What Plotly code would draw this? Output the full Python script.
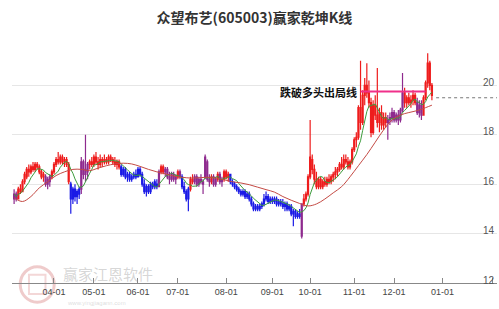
import plotly.graph_objects as go
import pandas as pd

title = "众望布艺(605003)赢家乾坤K线"

# state runs per session: r = bullish (red), b = bearish (blue), p = neutral (purple)
state_runs = [("p", 2), ("r", 13), ("p", 3), ("r", 9), ("b", 5), ("p", 4), ("r", 15),
              ("b", 18), ("p", 1), ("r", 2), ("p", 6), ("r", 1), ("p", 1), ("b", 4),
              ("r", 2), ("p", 8), ("r", 1), ("p", 2), ("r", 1), ("p", 2), ("r", 3),
              ("b", 34), ("p", 1), ("r", 40), ("p", 8), ("r", 6), ("p", 3), ("r", 5)]

open_ = [15.4, 15.6, 15.4, 15.8, 15.7, 16.1, 16.3, 16.6, 16.5, 16.7,
         16.6, 16.8, 16.7, 16.5, 16.3, 16.3, 16.0, 16.1, 16.3, 16.5,
         16.8, 17.0, 16.9, 17.1, 16.9, 17.0, 16.8, 16.0, 15.4, 15.8,
         15.5, 15.6, 15.8, 16.9, 16.4, 16.5, 16.8, 16.9, 16.8, 17.1,
         16.9, 16.8, 17.0, 16.9, 17.0, 16.9, 17.1, 17.0, 16.9, 16.8,
         16.9, 16.7, 16.4, 16.6, 16.3, 16.4, 16.2, 16.3, 16.4, 16.3,
         16.6, 16.4, 16.0, 15.7, 15.9, 15.7, 16.0, 15.9, 16.0, 15.9,
         16.5, 16.7, 16.5, 16.6, 16.3, 16.2, 16.4, 16.2, 16.3, 16.5,
         16.3, 15.9, 15.7, 15.4, 15.8, 16.2, 16.1, 16.3, 16.0, 16.2,
         16.1, 16.3, 16.9, 16.2, 16.1, 16.3, 16.0, 16.2, 16.4, 16.1,
         16.2, 16.5, 16.3, 16.4, 16.1, 16.0, 15.9, 15.8, 15.7, 15.6,
         15.7, 15.5, 15.6, 15.4, 15.2, 15.0, 15.1, 15.0, 15.1, 15.2,
         15.4, 15.5, 15.3, 15.4, 15.3, 15.4, 15.2, 15.3, 15.2, 15.1,
         15.2, 15.0, 15.1, 14.8, 14.9, 14.7, 14.8, 13.9, 15.2, 15.4,
         15.6, 16.3, 17.0, 16.6, 16.2, 15.9, 16.2, 15.9, 16.1, 16.0,
         16.2, 16.1, 16.3, 16.4, 16.5, 16.6, 16.8, 16.7, 17.0, 16.9,
         16.7, 16.9, 17.4, 17.8, 17.9, 19.1, 18.5, 19.6, 20.0, 19.7,
         19.3, 18.1, 19.2, 18.8, 18.5, 18.9, 18.4, 18.7, 18.5, 18.6,
         18.7, 18.9, 18.6, 18.8, 18.6, 19.0, 19.7, 19.3, 19.5, 19.3,
         19.4, 19.6, 19.3, 18.9, 19.2, 18.8, 19.5, 20.1, 20.9, 20.0]

high = [15.8, 15.7, 15.9, 16.0, 16.2, 16.5, 16.7, 16.8, 16.8, 16.9,
        16.9, 16.9, 16.8, 16.6, 16.5, 16.4, 16.3, 16.4, 16.6, 16.9,
        17.1, 17.3, 17.2, 17.2, 17.1, 17.1, 16.9, 16.1, 15.9, 16.0,
        15.8, 15.9, 17.1, 17.0, 18.0, 16.9, 17.0, 17.1, 17.2, 17.3,
        17.1, 17.2, 17.1, 17.2, 17.1, 17.2, 17.2, 17.1, 17.1, 17.0,
        17.0, 16.8, 16.7, 16.7, 16.5, 16.5, 16.4, 16.5, 16.6, 16.7,
        16.7, 16.5, 16.2, 16.0, 16.0, 16.1, 16.1, 16.2, 16.2, 16.6,
        16.8, 16.8, 16.7, 16.7, 16.5, 16.5, 16.5, 16.4, 16.6, 16.6,
        16.4, 16.1, 15.8, 15.9, 16.3, 16.4, 16.4, 16.4, 16.3, 16.4,
        16.2, 17.2, 17.0, 16.4, 16.4, 16.4, 16.3, 16.5, 16.5, 16.3,
        16.6, 16.6, 16.5, 16.4, 16.2, 16.1, 16.0, 15.9, 15.8, 15.8,
        15.8, 15.7, 15.7, 15.5, 15.3, 15.2, 15.2, 15.2, 15.3, 15.6,
        15.7, 15.6, 15.5, 15.5, 15.5, 15.5, 15.4, 15.4, 15.4, 15.3,
        15.3, 15.2, 15.2, 15.0, 15.0, 14.9, 15.0, 15.2, 15.6, 15.7,
        16.4, 18.6, 17.2, 16.8, 16.5, 16.3, 16.3, 16.2, 16.3, 16.3,
        16.4, 16.4, 16.5, 16.7, 16.7, 16.9, 17.1, 17.2, 17.2, 17.1,
        17.0, 17.5, 17.9, 18.1, 19.2, 21.0, 19.8, 20.3, 20.9, 20.2,
        19.5, 19.4, 19.6, 20.7, 19.1, 19.2, 18.9, 18.9, 18.8, 18.9,
        19.1, 19.0, 18.9, 19.0, 19.1, 20.5, 19.9, 19.6, 19.7, 19.6,
        19.8, 19.7, 19.5, 19.4, 19.4, 19.6, 20.2, 21.3, 21.0, 20.1]

low = [15.2, 15.3, 15.4, 15.6, 15.7, 16.0, 16.2, 16.3, 16.4, 16.5,
       16.5, 16.6, 16.4, 16.2, 16.1, 15.9, 15.8, 15.9, 16.2, 16.4,
       16.7, 16.8, 16.8, 16.8, 16.7, 16.7, 16.0, 14.8, 15.2, 15.3,
       15.2, 15.4, 15.6, 16.2, 16.1, 16.2, 16.6, 16.7, 16.7, 16.8,
       16.6, 16.7, 16.7, 16.8, 16.8, 16.8, 16.9, 16.8, 16.7, 16.6,
       16.6, 16.3, 16.3, 16.2, 16.1, 16.1, 16.1, 16.2, 16.2, 16.3,
       16.3, 15.9, 15.6, 15.5, 15.6, 15.6, 15.8, 15.8, 15.8, 15.9,
       16.4, 16.4, 16.3, 16.2, 16.0, 16.1, 16.1, 16.0, 16.2, 16.2,
       15.8, 15.6, 15.3, 14.9, 15.7, 16.0, 16.0, 15.9, 15.9, 16.0,
       15.6, 16.2, 16.1, 15.9, 16.0, 15.9, 15.9, 16.1, 16.0, 15.9,
       16.1, 16.2, 16.1, 16.0, 15.9, 15.8, 15.7, 15.6, 15.5, 15.5,
       15.4, 15.4, 15.3, 15.1, 14.9, 14.9, 14.9, 14.9, 15.0, 15.1,
       15.3, 15.2, 15.2, 15.2, 15.2, 15.1, 15.1, 15.1, 15.0, 14.9,
       14.9, 14.9, 14.7, 14.3, 14.6, 14.6, 14.6, 13.8, 15.1, 15.3,
       15.5, 16.2, 16.4, 16.0, 15.8, 15.8, 15.8, 15.8, 15.9, 15.9,
       16.0, 16.0, 16.1, 16.2, 16.3, 16.5, 16.6, 16.6, 16.8, 16.6,
       16.6, 16.8, 17.3, 17.5, 17.8, 18.2, 18.4, 19.2, 19.5, 19.1,
       17.9, 18.0, 18.6, 18.3, 18.1, 18.2, 18.2, 18.3, 17.8, 18.4,
       18.5, 18.5, 18.5, 18.4, 18.5, 18.9, 19.1, 19.1, 19.2, 19.1,
       19.2, 19.2, 18.8, 18.7, 18.6, 18.8, 19.4, 19.9, 19.8, 19.4]

close = [15.6, 15.4, 15.8, 15.7, 16.1, 16.4, 16.6, 16.5, 16.7, 16.6,
         16.8, 16.7, 16.5, 16.3, 16.4, 16.0, 16.2, 16.3, 16.5, 16.8,
         17.0, 16.9, 17.1, 16.9, 17.0, 16.8, 16.1, 15.4, 15.8, 15.5,
         15.7, 15.8, 16.9, 16.4, 16.6, 16.8, 16.9, 16.8, 17.1, 16.9,
         16.8, 17.0, 16.9, 17.0, 16.9, 17.1, 17.0, 16.9, 16.8, 16.9,
         16.7, 16.4, 16.6, 16.3, 16.4, 16.2, 16.3, 16.4, 16.3, 16.6,
         16.4, 16.0, 15.7, 15.9, 15.7, 16.0, 15.9, 16.1, 15.9, 16.5,
         16.7, 16.5, 16.6, 16.3, 16.2, 16.4, 16.2, 16.3, 16.5, 16.3,
         15.9, 15.7, 15.4, 15.8, 16.2, 16.1, 16.3, 16.0, 16.2, 16.1,
         16.0, 17.1, 16.2, 16.1, 16.3, 16.0, 16.2, 16.4, 16.1, 16.2,
         16.5, 16.3, 16.4, 16.1, 16.0, 15.9, 15.8, 15.7, 15.6, 15.7,
         15.5, 15.6, 15.4, 15.2, 15.0, 15.1, 15.0, 15.1, 15.2, 15.4,
         15.5, 15.3, 15.4, 15.3, 15.4, 15.2, 15.3, 15.2, 15.1, 15.2,
         15.0, 15.1, 14.8, 14.9, 14.7, 14.8, 14.7, 15.2, 15.4, 15.6,
         16.3, 17.1, 16.6, 16.2, 15.9, 16.2, 15.9, 16.1, 16.0, 16.2,
         16.1, 16.3, 16.4, 16.5, 16.6, 16.8, 16.7, 17.0, 16.9, 16.7,
         16.9, 17.4, 17.8, 17.9, 19.1, 18.5, 19.6, 20.0, 19.7, 19.3,
         18.1, 19.2, 18.8, 18.5, 18.9, 18.4, 18.7, 18.5, 18.6, 18.7,
         18.9, 18.6, 18.8, 18.6, 19.0, 19.7, 19.3, 19.5, 19.3, 19.4,
         19.6, 19.3, 18.9, 19.2, 18.8, 19.5, 20.1, 20.9, 20.0, 19.6]

# long trend line read every 4 sessions (plus the last session)
trend_vals = [15.45, 15.3, 15.5, 15.85, 16.1, 16.35, 16.5, 16.6, 16.6, 16.55,
              16.65, 16.75, 16.82, 16.85, 16.82, 16.72, 16.6, 16.5, 16.42, 16.33,
              16.28, 16.25, 16.26, 16.28, 16.25, 16.18, 16.1, 16.05, 15.98, 15.88,
              15.78, 15.68, 15.5, 15.35, 15.22, 15.12, 15.2, 15.4, 15.65, 15.9,
              16.3, 16.75, 17.2, 17.7, 18.2, 18.6, 18.8, 18.9, 18.98, 19.1, 19.2]
trend_step = 4

# month ticks: session index of each month start, and labels
tick_idx = [19, 38, 59, 78, 101, 123, 141, 162, 181, 204, 228]
tick_text = ["04-01", "05-01", "06-01", "07-01", "08-01", "09-01",
             "10-01", "11-01", "12-01", "01-01", "02-01"]

exit_level = 19.75
exit_start, exit_end = 165, 196
proj_level = 19.5
proj_start, proj_end = 201, 230

y_ticks = [12, 14, 16, 18, 20, 22]
y_text = ["12", "14", "16", "18", "20", ""]

n = len(close)
idx = list(range(n))
state = []
for k, cnt in state_runs:
    state += [k] * cnt
state = state[:n] + ["r"] * (n - len(state))

colors = {"r": "#ee1c1c", "b": "#1a1ae6", "p": "#8e2a8e"}

fig = go.Figure()

ma_short = pd.Series(close).rolling(7, min_periods=1).mean()
fig.add_trace(go.Scatter(x=idx, y=ma_short, mode="lines",
                         line=dict(color="#3c9c3c", width=1), hoverinfo="skip"))
trend_x = list(range(0, n, trend_step))
if trend_x[-1] != n - 1:
    trend_x.append(n - 1)
fig.add_trace(go.Scatter(x=trend_x, y=trend_vals[:len(trend_x)], mode="lines",
                         line=dict(color="#c44a44", width=1, shape="spline"),
                         hoverinfo="skip"))

for key, col in colors.items():
    sel = [i for i in idx if state[i] == key]
    fig.add_trace(go.Candlestick(
        x=sel,
        open=[open_[i] for i in sel], high=[high[i] for i in sel],
        low=[low[i] for i in sel], close=[close[i] for i in sel],
        increasing=dict(line=dict(color=col, width=1.2), fillcolor=col),
        decreasing=dict(line=dict(color=col, width=1.2), fillcolor=col),
        whiskerwidth=0, hoverinfo="skip"))

fig.add_trace(go.Scatter(x=[exit_start, exit_end], y=[exit_level, exit_level],
                         mode="lines", line=dict(color="#f0308a", width=2),
                         hoverinfo="skip"))
fig.add_trace(go.Scatter(x=[proj_start, proj_end], y=[proj_level, proj_level],
                         mode="lines", line=dict(color="#777777", width=1, dash="dot"),
                         hoverinfo="skip"))

fig.add_annotation(x=exit_start, y=exit_level, text="<b>跌破多头出局线</b>",
                   showarrow=False, xanchor="right", yanchor="middle", xshift=-2,
                   font=dict(size=11, color="#111111",
                             family="Noto Sans CJK SC, sans-serif"))

# watermark
fig.add_shape(type="circle", xref="paper", yref="paper",
              x0=0.017, x1=0.087, y0=-0.078, y1=0.066,
              line=dict(color="rgba(220,140,140,0.45)", width=3), layer="below")
fig.add_shape(type="rect", xref="paper", yref="paper",
              x0=0.035, x1=0.069, y0=-0.045, y1=0.033,
              line=dict(color="rgba(220,140,140,0.35)", width=2), layer="below")
fig.add_annotation(xref="paper", yref="paper", x=0.10, y=0.0, text="赢家江恩软件",
                   showarrow=False, xanchor="left", yanchor="bottom", yshift=-3,
                   font=dict(size=15, color="rgba(150,150,150,0.4)",
                             family="Noto Sans CJK SC, sans-serif"))
fig.add_annotation(xref="paper", yref="paper", x=0.11, y=-0.062, text="www.yingjiagann.com",
                   showarrow=False, xanchor="left", yanchor="top",
                   font=dict(size=6, color="rgba(150,150,150,0.35)",
                             family="Liberation Sans, Arial, sans-serif"))

fig.update_layout(
    width=499, height=309,
    margin=dict(l=12, r=2, t=36, b=26),
    paper_bgcolor="white", plot_bgcolor="white",
    showlegend=False,
    title=dict(text="<b>" + title + "</b>", x=0.51, xanchor="center", y=0.94,
               yanchor="middle",
               font=dict(size=14, color="#333333",
                         family="Noto Sans CJK SC, sans-serif")),
    xaxis=dict(range=[-1, 230], tickvals=tick_idx, ticktext=tick_text,
               ticks="inside", ticklen=5, tickcolor="#888888",
               showgrid=False, showline=True, linecolor="#888888", linewidth=1,
               zeroline=False, rangeslider=dict(visible=False),
               tickfont=dict(size=9, color="#444444",
                             family="Liberation Sans, Arial, sans-serif")),
    yaxis=dict(range=[12, 22], tickvals=y_ticks, ticktext=y_text,
               side="right", ticklabelposition="inside top", ticks="",
               ticklabelshift=4, ticklabeloverflow="allow",
               showgrid=True, gridcolor="#e6e6e6", gridwidth=1,
               showline=False, zeroline=False,
               tickfont=dict(size=10, color="#555555",
                             family="Liberation Sans, Arial, sans-serif")),
)

fig.write_html("out.html")
